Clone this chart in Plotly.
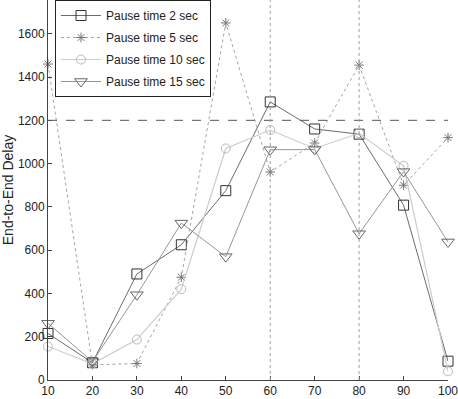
import plotly.graph_objects as go

x_vals = [10, 20, 30, 40, 50, 60, 70, 80, 90, 100]
pause2 = [215, 80, 490, 625, 875, 1285, 1160, 1136, 808, 87]
pause5 = [1460, 70, 76, 475, 1650, 961, 1095, 1455, 900, 1120]
pause10 = [155, 75, 187, 420, 1070, 1155, 1070, 1140, 990, 40]
pause15 = [262, 85, 394, 725, 570, 1064, 1065, 676, 963, 638]
y_ticks = [0, 200, 400, 600, 800, 1000, 1200, 1400, 1600]
x_ticks = [10, 20, 30, 40, 50, 60, 70, 80, 90, 100]

series = [
    ("Pause time 2 sec", pause2, "square-open", 10, "#333333", "#5a5a5a", "solid", 0.9),
    ("Pause time 5 sec", pause5, "asterisk-open", 8, "#777777", "#9a9a9a", "dot", 0.9),
    ("Pause time 10 sec", pause10, "circle-open", 9, "#bbbbbb", "#cccccc", "solid", 1.2),
    ("Pause time 15 sec", pause15, "triangle-down-open", 11, "#666666", "#8a8a8a", "solid", 0.9),
]

fig = go.Figure()
for i, (name, ys, sym, sz, mcol, lcol, dash, lw) in enumerate(series):
    fig.add_trace(go.Scatter(
        x=x_vals, y=ys, name=name, mode="lines+markers",
        legendgroup=f"g{i}",
        line=dict(color=lcol, width=lw, dash=dash),
        marker=dict(symbol=sym, size=sz, color=mcol, line=dict(color=mcol, width=1)),
        cliponaxis=False,
    ))

# reference lines
fig.add_hline(y=1200, line=dict(color="#555555", width=1, dash="dash"))
for xv in [60, 80]:
    fig.add_vline(x=xv, line=dict(color="#a0a0a0", width=1, dash="dot"))

fig.update_layout(
    width=458, height=399,
    margin=dict(l=48, r=10, t=0, b=19, autoexpand=False),
    paper_bgcolor="white", plot_bgcolor="white",
    font=dict(family="Liberation Sans, Arial", size=12, color="#222222"),
    showlegend=True,
    legend=dict(
        x=0.0175, y=1.0, xanchor="left", yanchor="top",
        bgcolor="white", bordercolor="#222222", borderwidth=1,
        font=dict(size=12, color="#222222"),
        tracegroupgap=3, itemwidth=40,
    ),
    xaxis=dict(
        range=[10, 100], tickvals=x_ticks, showgrid=False, zeroline=False,
        showline=True, linecolor="#444444", linewidth=1,
        ticks="inside", ticklen=4, tickcolor="#444444",
        tickfont=dict(size=12), ticklabeloverflow="allow",
    ),
    yaxis=dict(
        range=[0, 1756], tickvals=y_ticks, showgrid=False, zeroline=False,
        showline=True, linecolor="#444444", linewidth=1,
        ticks="inside", ticklen=4, tickcolor="#444444",
        tickfont=dict(size=12), ticklabeloverflow="allow",
        title=dict(text="End-to-End Delay", font=dict(size=14), standoff=8),
    ),
)

fig.write_html(
    "out.html",
    config={"displayModeBar": False},
    post_script="document.body.style.margin='0';document.body.style.padding='0';",
)
